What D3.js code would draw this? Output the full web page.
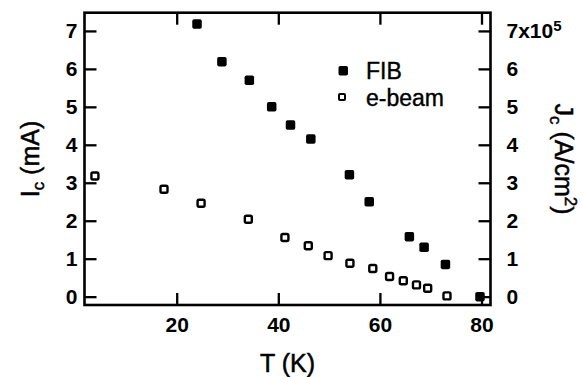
<!DOCTYPE html>
<html>
<head>
<meta charset="utf-8">
<script src="https://cdn.jsdelivr.net/npm/d3@7"></script>
<style>
  html, body { margin: 0; padding: 0; background: #fff; }
  svg { display: block; }
  text { font-family: "Liberation Sans", Arial, Helvetica, sans-serif; fill: #000; }
</style>
</head>
<body>
<svg id="chart" width="582" height="377"></svg>
<script>
// Data
const fibT  = [24.0, 28.9, 34.3, 38.7, 42.4, 46.4, 54.0, 57.9, 65.8, 68.7, 72.9, 79.7];
const fibIc = [7.18, 6.19, 5.70, 5.00, 4.52, 4.15, 3.21, 2.50, 1.58, 1.30, 0.85, 0.00];
const ebT   = [3.9, 17.5, 24.8, 34.1, 41.3, 45.9, 49.8, 54.1, 58.6, 61.9, 64.6, 67.2, 69.4, 73.2];
const ebIc  = [3.18, 2.83, 2.46, 2.04, 1.56, 1.34, 1.08, 0.88, 0.74, 0.53, 0.42, 0.31, 0.22, 0.02];
const xTicks = [20, 40, 60, 80];
const yTicks = [0, 1, 2, 3, 4, 5, 6, 7];
const rightTickLabels = ["0", "1", "2", "3", "4", "5", "6", "7x10"];
const seriesNames = ["FIB", "e-beam"];

const svg = d3.select("#chart");
const L = 84.5, R = 490.5, T = 12.7, B = 305;

const x = d3.scaleLinear().domain([1.85, 81.77]).range([L, R]);
const y = d3.scaleLinear().domain([-0.22, 7.48]).range([B, T]);

const tickLen = 12;

function styleAxis(g, fontSize, weight) {
  g.select(".domain").remove();
  g.selectAll(".tick line").attr("stroke", "#000").attr("stroke-width", 2.3);
  g.selectAll(".tick text")
    .attr("font-size", fontSize)
    .attr("font-weight", weight)
    .attr("font-family", '"Liberation Sans", Arial, sans-serif');
}

// bottom axis
svg.append("g").attr("transform", `translate(0,${B})`)
  .call(d3.axisBottom(x).tickValues(xTicks).tickSize(-tickLen).tickPadding(12).tickFormat(d3.format("d")))
  .call(g => styleAxis(g, 21, "bold"));
// top axis (ticks only)
svg.append("g").attr("transform", `translate(0,${T})`)
  .call(d3.axisTop(x).tickValues(xTicks).tickSize(-tickLen).tickFormat(""))
  .call(g => styleAxis(g, 21, "bold"));
// left axis
svg.append("g").attr("transform", `translate(${L},0)`)
  .call(d3.axisLeft(y).tickValues(yTicks).tickSize(-tickLen).tickPadding(7).tickFormat(d3.format("d")))
  .call(g => styleAxis(g, 21, "bold"));
// right axis
const rightAx = svg.append("g").attr("transform", `translate(${R},0)`)
  .call(d3.axisRight(y).tickValues(yTicks).tickSize(-tickLen).tickPadding(16).tickFormat((d, i) => rightTickLabels[i]))
  .call(g => styleAxis(g, 21, "bold"));
// superscript 5 on top right label
rightAx.selectAll(".tick text").filter((d, i) => i === yTicks.length - 1)
  .append("tspan").attr("dy", "-0.5em").attr("font-size", 15).text("5");

// frame
svg.append("rect").attr("x", L).attr("y", T).attr("width", R - L).attr("height", B - T)
  .attr("fill", "none").attr("stroke", "#000").attr("stroke-width", 2.6);

// data points
const sz = 9.5;
const fib = fibT.map((t, i) => ({ t, v: fibIc[i] }));
const eb = ebT.map((t, i) => ({ t, v: ebIc[i] }));

svg.append("g").selectAll("rect").data(fib).join("rect")
  .attr("x", d => x(d.t) - sz / 2).attr("y", d => y(d.v) - sz / 2)
  .attr("width", sz).attr("height", sz).attr("rx", 1.8)
  .attr("fill", "#000");

const osz = 7;
svg.append("g").selectAll("rect").data(eb).join("rect")
  .attr("x", d => x(d.t) - osz / 2).attr("y", d => y(d.v) - osz / 2)
  .attr("width", osz).attr("height", osz).attr("rx", 1.5)
  .attr("fill", "#fff").attr("stroke", "#000").attr("stroke-width", 2.4);

// legend
const lg = svg.append("g");
lg.append("rect").attr("x", 338.5).attr("y", 66).attr("width", 9.5).attr("height", 9.5).attr("rx", 1.8).attr("fill", "#000");
lg.append("text").attr("x", 366).attr("y", 79).attr("font-size", 23)
  .attr("stroke", "#000").attr("stroke-width", 0.4).text(seriesNames[0]);
lg.append("rect").attr("x", 339).attr("y", 94).attr("width", 6).attr("height", 6).attr("rx", 1)
  .attr("fill", "#fff").attr("stroke", "#000").attr("stroke-width", 2);
lg.append("text").attr("x", 366).attr("y", 106).attr("font-size", 23)
  .attr("stroke", "#000").attr("stroke-width", 0.4).text(seriesNames[1]);

// axis titles
svg.append("text").attr("x", (L + R) / 2).attr("y", 372).attr("text-anchor", "middle")
  .attr("font-size", 25).attr("stroke", "#000").attr("stroke-width", 0.5).text("T (K)");

const lt = svg.append("text").attr("transform", "translate(39,159) rotate(-90)")
  .attr("text-anchor", "middle").attr("font-size", 25)
  .attr("stroke", "#000").attr("stroke-width", 0.5);
lt.append("tspan").text("I");
lt.append("tspan").attr("font-size", 17).attr("dy", 5).text("c");
lt.append("tspan").attr("dy", -5).text(" (mA)");

const rt = svg.append("text").attr("transform", "translate(555,159) rotate(90)")
  .attr("text-anchor", "middle").attr("font-size", 25)
  .attr("stroke", "#000").attr("stroke-width", 0.5);
rt.append("tspan").text("J");
rt.append("tspan").attr("font-size", 17).attr("dy", 5).text("c");
rt.append("tspan").attr("dy", -5).text(" (A/cm");
rt.append("tspan").attr("font-size", 17).attr("dy", -10).text("2");
rt.append("tspan").attr("dy", 10).text(")");
</script>
</body>
</html>
